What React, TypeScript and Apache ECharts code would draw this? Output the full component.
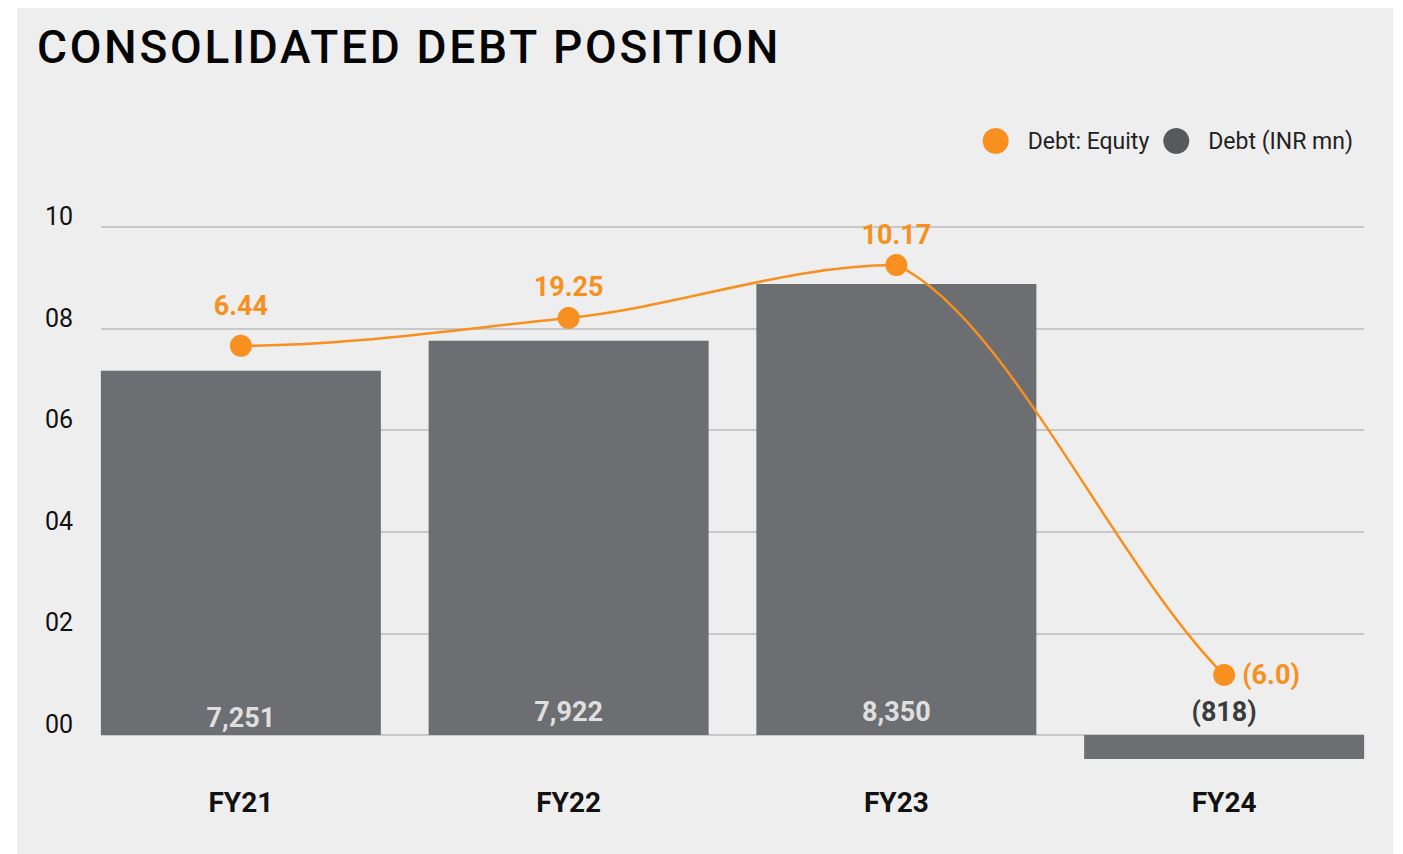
import React, { useEffect, useRef } from "react";
import * as echarts from "echarts";

const categories = ["FY21", "FY22", "FY23", "FY24"];
// bar heights as read on the 00–10 axis
const debtBarHeights = [7.17, 7.76, 8.88, -0.47];
const debtLabels = ["7,251", "7,922", "8,350", "(818)"];
// line points as read on the 00–10 axis
const ratioPoints = [7.66, 8.21, 9.25, 1.18];
const ratioLabels = ["6.44", "19.25", "10.17", "(6.0)"];
const yTicks = ["00", "02", "04", "06", "08", "10"];

const ORANGE = "#F7901E";
const BAR = "#6D6E71";
const FONT = "Roboto, 'Noto Sans', sans-serif";
// curve shape (screen-space slopes entering / leaving each point)
const SLOPE_IN = [0, -0.1, 0, 1.0];
const SLOPE_OUT = [0, -0.1, 0.45, 1.0];

export default function App() {
  const ref = useRef<HTMLDivElement>(null);
  useEffect(() => {
    if (!ref.current) return;
    const chart = echarts.init(ref.current, undefined, { renderer: "svg" });
    const labelDist = [15, 6, 6, 7];
    chart.setOption({
      animation: false,
      backgroundColor: "#ffffff",
      textStyle: { fontFamily: FONT },
      graphic: [
        {
          type: "rect",
          z: -10,
          silent: true,
          shape: { x: 17, y: 8, width: 1376, height: 846 },
          style: { fill: "#EEEEEE" },
        },
      ],
      title: {
        text: "CONSOLIDATED DEBT POSITION",
        left: 32,
        top: 19,
        textStyle: { fontFamily: FONT, fontSize: 46, fontWeight: 500, color: "#050505" },
      },
      legend: {
        right: 45,
        top: 123,
        itemWidth: 26,
        itemHeight: 26,
        itemGap: 14,
        icon: "circle",
        textStyle: { fontFamily: FONT, fontSize: 23, color: "#222222", padding: [0, 0, 0, 14] },
        data: [
          { name: "Debt: Equity", itemStyle: { color: ORANGE } },
          { name: "Debt (INR mn)", itemStyle: { color: "#58595B" } },
        ],
      },
      grid: [
        { left: 77, right: 15, top: 227, bottom: 854 - 785.8 },
        { left: 101, right: 39, top: 227, bottom: 854 - 735 },
      ],
      xAxis: [
        {
          type: "category",
          gridIndex: 0,
          data: categories,
          axisLine: { show: false },
          axisTick: { show: false },
          axisLabel: {
            margin: 17,
            verticalAlign: "middle",
            fontFamily: FONT,
            fontSize: 28,
            fontWeight: "bold",
            color: "#111111",
          },
        },
        {
          type: "category",
          gridIndex: 1,
          data: categories,
          show: false,
        },
      ],
      yAxis: [
        {
          type: "value",
          gridIndex: 0,
          min: -1,
          max: 10,
          show: false,
          splitLine: { show: false },
        },
        {
          type: "value",
          gridIndex: 1,
          min: 0,
          max: 10,
          interval: 2,
          axisLine: { show: false },
          axisTick: { show: false },
          splitLine: { show: true, lineStyle: { color: "#BBBBBB", width: 1.5 } },
          axisLabel: {
            align: "left",
            margin: 56,
            verticalAlign: "bottom",
            lineHeight: 21,
            fontFamily: FONT,
            fontSize: 25,
            color: "#111111",
            formatter: (v: number) => yTicks[Math.round(v / 2)] ?? "",
          },
        },
      ],
      series: [
        {
          name: "Debt (INR mn)",
          type: "bar",
          xAxisIndex: 0,
          yAxisIndex: 0,
          barWidth: 280,
          itemStyle: { color: BAR },
          data: debtBarHeights,
          z: 2,
        },
        {
          name: "curve",
          type: "custom",
          coordinateSystem: "cartesian2d",
          xAxisIndex: 0,
          yAxisIndex: 0,
          silent: true,
          z: 4,
          data: ratioPoints.map((v, i) => [i, v]),
          renderItem: (params: any, api: any) => {
            if (params.dataIndex !== 0) return null;
            const pts = ratioPoints.map((v, i) => api.coord([i, v]));
            let d = `M${pts[0][0]},${pts[0][1]}`;
            for (let i = 0; i < pts.length - 1; i++) {
              const [x0, y0] = pts[i];
              const [x1, y1] = pts[i + 1];
              const h = (x1 - x0) / 3;
              d += ` C${x0 + h},${y0 + SLOPE_OUT[i] * h} ${x1 - h},${y1 - SLOPE_IN[i + 1] * h} ${x1},${y1}`;
            }
            return {
              type: "path",
              shape: { pathData: d },
              style: { stroke: ORANGE, lineWidth: 2.5, fill: "none" },
            };
          },
        },
        {
          name: "Debt: Equity",
          type: "line",
          xAxisIndex: 0,
          yAxisIndex: 0,
          symbol: "circle",
          symbolSize: 22,
          itemStyle: { color: ORANGE },
          lineStyle: { color: ORANGE, width: 0, opacity: 0 },
          z: 5,
          data: ratioPoints.map((v, i) => ({
            value: v,
            label: {
              show: true,
              position: i === 3 ? "right" : "top",
              distance: labelDist[i],
              formatter: ratioLabels[i],
              color: ORANGE,
              fontFamily: FONT,
              fontSize: 27,
              fontWeight: "bold",
            },
          })),
        },
        {
          name: "barLabels",
          type: "scatter",
          xAxisIndex: 0,
          yAxisIndex: 0,
          symbolSize: 0,
          silent: true,
          z: 4,
          data: debtLabels.map((t, i) => ({
            value: 0,
            label: {
              show: true,
              position: "top",
              distance: i === 0 ? 4 : 10,
              formatter: t,
              color: i === 3 ? "#0A0A0A" : "#FFFFFF",
              fontFamily: FONT,
              fontSize: 27,
              fontWeight: "bold",
            },
          })),
        },
        {
          name: "grid",
          type: "line",
          xAxisIndex: 1,
          yAxisIndex: 1,
          data: [],
          silent: true,
        },
      ],
    });
    return () => chart.dispose();
  }, []);
  return (
    <>
      <style>{`.debt-chart text[style*="46px"]{letter-spacing:2.7px;}`}</style>
      <div
        ref={ref}
        className="debt-chart"
        style={{ position: "absolute", left: 0, top: 0, width: 1403, height: 854 }}
      />
    </>
  );
}
